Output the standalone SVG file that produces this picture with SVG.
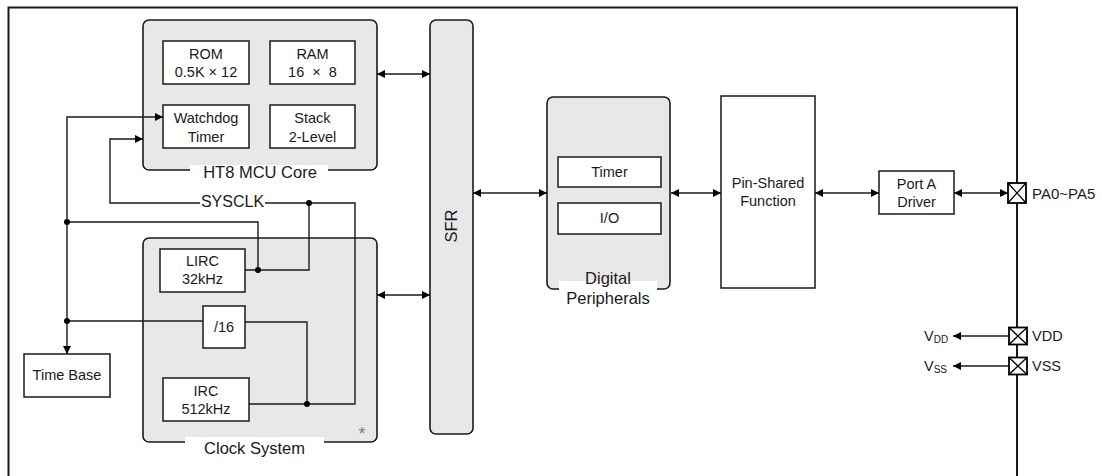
<svg xmlns="http://www.w3.org/2000/svg" width="1102" height="476" viewBox="0 0 1102 476">
  <style>
    text { font-family: "Liberation Sans", Arial, sans-serif; fill: #1a1a1a; }
    .t { font-size: 14.5px; text-anchor: middle; }
    .g { font-size: 16.5px; text-anchor: middle; }
    .l { font-size: 14.5px; }
    .grp { fill: #e8e8e8; stroke: #1a1a1a; stroke-width: 1.6; }
    .box { fill: #ffffff; stroke: #1a1a1a; stroke-width: 1.5; }
    .wire { fill: none; stroke: #1a1a1a; stroke-width: 1.4; }
    .gap { fill: #ffffff; stroke: none; }
    .dot { fill: #000000; }
    .pin { fill: #ffffff; stroke: #000000; stroke-width: 1.8; }
  </style>
  <defs>
    <marker id="ah" viewBox="0 0 10 10" refX="10" refY="5" markerWidth="9" markerHeight="8" markerUnits="userSpaceOnUse" orient="auto-start-reverse">
      <path d="M0,0 L10,5 L0,10 z" fill="#000"/>
    </marker>
  </defs>

  <rect width="1102" height="476" fill="#ffffff"/>

  <!-- chip outline (bottom edge runs off the sheet) -->
  <path d="M8.5,490 V7.5 H1017 V490" fill="none" stroke="#1a1a1a" stroke-width="2"/>

  <g id="mcu-core">
    <rect class="grp" x="143" y="20" width="234" height="150" rx="6"/>
    <rect class="gap" x="190" y="165" width="138" height="12"/>
    <text class="g" x="260" y="178">HT8 MCU Core</text>
  </g>
  <g id="rom">
    <rect class="box" x="163" y="41" width="86" height="43"/>
    <text class="t" x="206" y="59">ROM</text>
    <text class="t" x="206" y="77">0.5K × 12</text>
  </g>
  <g id="ram">
    <rect class="box" x="270" y="41" width="85" height="43"/>
    <text class="t" x="312.5" y="59">RAM</text>
    <text class="t" x="312.5" y="77" xml:space="preserve">16  ×  8</text>
  </g>
  <g id="watchdog">
    <rect class="box" x="163" y="105" width="86" height="43"/>
    <text class="t" x="206" y="123">Watchdog</text>
    <text class="t" x="206" y="141.5">Timer</text>
  </g>
  <g id="stack">
    <rect class="box" x="270" y="105" width="85" height="43"/>
    <text class="t" x="312.5" y="123">Stack</text>
    <text class="t" x="312.5" y="141.5">2-Level</text>
  </g>

  <g id="clock-system">
    <rect class="grp" x="143" y="238" width="234" height="204" rx="6"/>
    <rect class="gap" x="185" y="437" width="139" height="12"/>
    <text class="g" x="254.5" y="454">Clock System</text>
    <text x="362" y="440" font-size="18px" text-anchor="middle" style="fill:#808080">*</text>
  </g>
  <g id="lirc">
    <rect class="box" x="160" y="249" width="85" height="43"/>
    <text class="t" x="202.5" y="266">LIRC</text>
    <text class="t" x="202.5" y="284">32kHz</text>
  </g>
  <g id="div16">
    <rect class="box" x="203" y="306" width="42" height="42"/>
    <text class="t" x="224" y="331.5">/16</text>
  </g>
  <g id="irc">
    <rect class="box" x="163" y="378" width="86" height="43"/>
    <text class="t" x="206" y="396">IRC</text>
    <text class="t" x="206" y="413.5">512kHz</text>
  </g>
  <g id="time-base">
    <rect class="box" x="24" y="354" width="86" height="43"/>
    <text class="t" x="67" y="379.5">Time Base</text>
  </g>

  <g id="sfr">
    <rect class="grp" x="430" y="20" width="43" height="414" rx="6"/>
    <text class="g" transform="translate(457,226) rotate(-90)">SFR</text>
  </g>

  <g id="digital-peripherals">
    <rect class="grp" x="547" y="97" width="123" height="192" rx="6"/>
    <rect class="gap" x="559" y="281" width="98" height="12"/>
    <text class="g" x="608" y="284">Digital</text>
    <text class="g" x="608" y="303.5">Peripherals</text>
  </g>
  <g id="timer">
    <rect class="box" x="558" y="157" width="103" height="30"/>
    <text class="t" x="609.5" y="177">Timer</text>
  </g>
  <g id="io">
    <rect class="box" x="558" y="203" width="103" height="31"/>
    <text class="t" x="609.5" y="223">I/O</text>
  </g>

  <g id="pin-shared">
    <rect class="box" x="721" y="96" width="94" height="192"/>
    <text class="t" x="768" y="188">Pin-Shared</text>
    <text class="t" x="768" y="205.5">Function</text>
  </g>
  <g id="port-a-driver">
    <rect class="box" x="879" y="171" width="75" height="43"/>
    <text class="t" x="916.5" y="188.5">Port A</text>
    <text class="t" x="916.5" y="206.5">Driver</text>
  </g>

  <g id="connectors">
    <!-- clock tree -->
    <path class="wire" d="M67,354 V117 H163" marker-start="url(#ah)" marker-end="url(#ah)"/>
    <path class="wire" d="M143,139 H110 V203 H200" marker-start="url(#ah)"/>
    <path class="wire" d="M265,203 H355 V404 H249"/>
    <path class="wire" d="M309,203 V270 H245"/>
    <path class="wire" d="M258,270 V222 H67"/>
    <path class="wire" d="M67,321 H203"/>
    <path class="wire" d="M245,322 H307 V404"/>
    <circle class="dot" cx="309" cy="203" r="3"/>
    <circle class="dot" cx="258" cy="270" r="3"/>
    <circle class="dot" cx="67" cy="222" r="3"/>
    <circle class="dot" cx="67" cy="321" r="3"/>
    <circle class="dot" cx="307" cy="404" r="3"/>
    <!-- buses -->
    <path class="wire" d="M377,74 H430" marker-start="url(#ah)" marker-end="url(#ah)"/>
    <path class="wire" d="M377,295 H430" marker-start="url(#ah)" marker-end="url(#ah)"/>
    <path class="wire" d="M473,193 H547" marker-start="url(#ah)" marker-end="url(#ah)"/>
    <path class="wire" d="M671,193 H721" marker-start="url(#ah)" marker-end="url(#ah)"/>
    <path class="wire" d="M815,193 H879" marker-start="url(#ah)" marker-end="url(#ah)"/>
    <path class="wire" d="M954,193 H1008" marker-start="url(#ah)" marker-end="url(#ah)"/>
    <!-- supply pins -->
    <path class="wire" d="M1009,336 H953" marker-end="url(#ah)"/>
    <path class="wire" d="M1009,366 H953" marker-end="url(#ah)"/>
  </g>

  <text x="232.5" y="207" class="g" style="font-size:16px">SYSCLK</text>

  <g id="pin-pa">
    <rect class="pin" x="1008" y="183" width="18" height="20"/>
    <path d="M1008,183 L1026,203 M1026,183 L1008,203" stroke="#000" stroke-width="1.3"/>
    <text class="l" x="1032" y="198.5" style="font-size:15px">PA0~PA5</text>
  </g>
  <g id="pin-vdd">
    <rect class="pin" x="1009" y="327.5" width="18" height="17"/>
    <path d="M1009,327.5 L1027,344.5 M1027,327.5 L1009,344.5" stroke="#000" stroke-width="1.3"/>
    <text class="l" x="1032" y="341">VDD</text>
    <text class="l" x="924" y="341">V<tspan font-size="10px" dy="1.5">DD</tspan></text>
  </g>
  <g id="pin-vss">
    <rect class="pin" x="1009" y="357.5" width="18" height="17"/>
    <path d="M1009,357.5 L1027,374.5 M1027,357.5 L1009,374.5" stroke="#000" stroke-width="1.3"/>
    <text class="l" x="1032" y="371">VSS</text>
    <text class="l" x="924" y="371">V<tspan font-size="10px" dy="1.5">SS</tspan></text>
  </g>
</svg>
